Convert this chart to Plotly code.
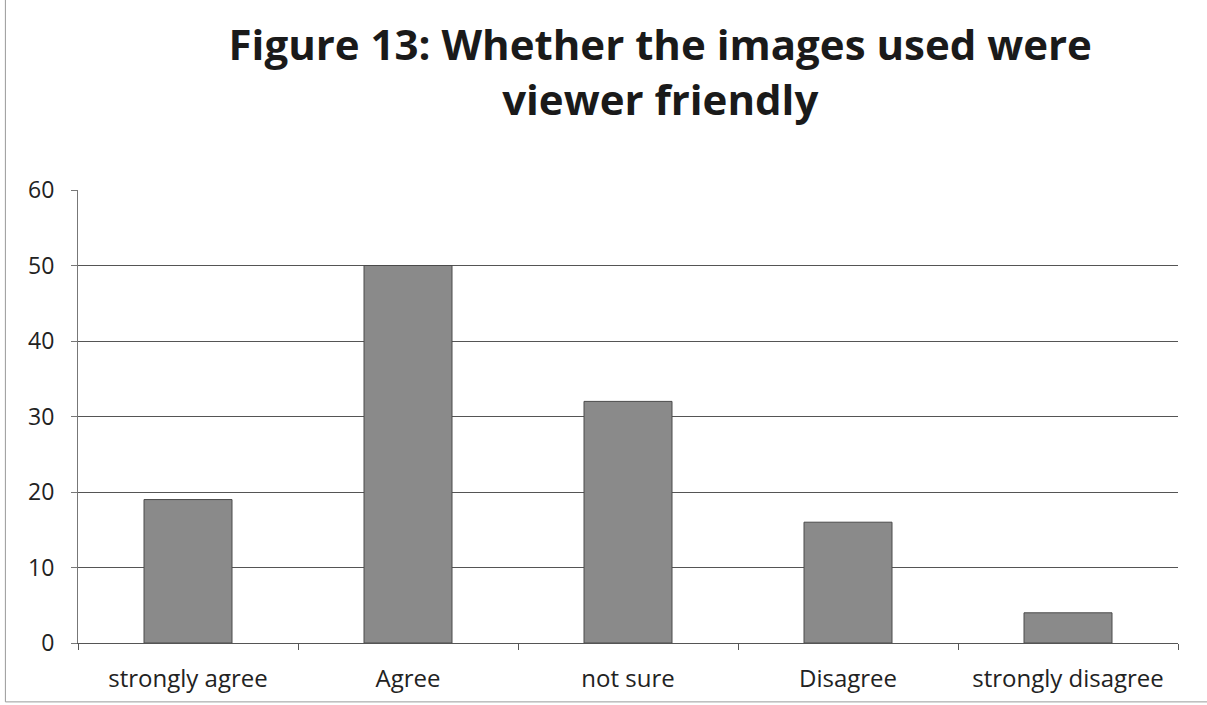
import plotly.graph_objects as go

# Survey responses: were the images viewer friendly?
categories = ["strongly agree", "Agree", "not sure", "Disagree", "strongly disagree"]
counts = [19, 50, 32, 16, 4]
y_ticks = [0, 10, 20, 30, 40, 50, 60]

fig = go.Figure(
    go.Bar(
        x=categories,
        y=counts,
        marker=dict(color="#8a8a8a", line=dict(color="#4a4a4a", width=1)),
        width=0.4,
    )
)

fig.update_layout(
    width=1207,
    height=705,
    margin=dict(l=78, r=29, t=190, b=62),
    paper_bgcolor="white",
    plot_bgcolor="white",
    showlegend=False,
    title=dict(
        text="<b>Figure 13: Whether the images used were<br>viewer friendly</b>",
        x=0.547,
        xanchor="center",
        y=0.915,
        yanchor="middle",
        font=dict(family="Open Sans, sans-serif", size=42, color="#1a1a1a"),
    ),
    font=dict(family="Open Sans, sans-serif", size=22, color="#222222"),
    shapes=[
        dict(
            type="rect", xref="paper", yref="paper",
            x0=-0.066, x1=1.03, y0=-0.13, y1=1.45,
            line=dict(color="#9a9a9a", width=1),
        )
    ],
)

fig.update_xaxes(
    showgrid=False,
    showline=True,
    linecolor="#555555",
    ticks="outside",
    tickson="boundaries",
    ticklen=6,
    tickcolor="#555555",
    tickfont=dict(size=24),
    ticklabelstandoff=14,
)
fig.update_yaxes(
    range=[0, 60],
    tickvals=y_ticks,
    showgrid=True,
    gridcolor="#555555",
    gridwidth=1,
    showline=True,
    linecolor="#777777",
    ticks="outside",
    ticklen=6,
    tickcolor="#777777",
    tickfont=dict(size=23),
    ticklabelstandoff=12,
    zeroline=False,
)

fig.write_html("out.html")
